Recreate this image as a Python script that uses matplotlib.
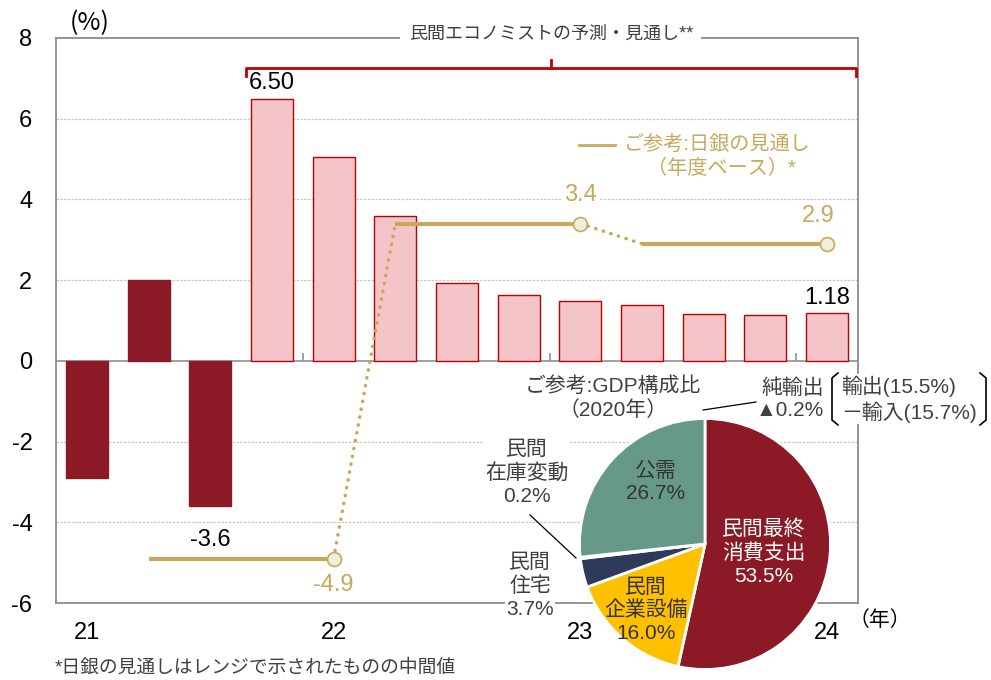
import matplotlib
matplotlib.use('Agg')
import matplotlib.pyplot as plt
from matplotlib.lines import Line2D

plt.rcParams['font.family'] = ['Liberation Sans', 'Noto Sans CJK JP']

# quarterly real GDP growth (annualised, %), first 3 actual, rest forecasts
gdp_growth = [-2.9, 2.0, -3.6, 6.50, 5.05, 3.58, 1.93, 1.64, 1.49, 1.39, 1.16, 1.14, 1.18]
n_actual = 3
year_labels = ['21', '22', '23', '24']
year_pos = [0, 4, 8, 12]
year_bounds = [3.5, 7.5, 11.5]

# BOJ outlook (fiscal year basis)
boj_start = [1, 5, 9]
boj_end = [4, 8, 12]
boj_val = [-4.9, 3.4, 2.9]

# GDP composition 2020
pie_names = ['民間最終\n消費支出', '民間\n企業設備', '民間住宅', '民間在庫変動', '公需']
pie_share = [53.5, 16.0, 3.7, 0.2, 26.7]

DARK = '#8B1A26'
PINK = '#F3C5C9'
EDGE = '#C00000'
GOLD = '#C9A85C'
GRAY_TXT = '#404040'
W, H = 991, 680
CJK = ['Noto Sans CJK JP', 'DejaVu Sans']


def px(x, y):
    return x / W, 1 - y / H


fig = plt.figure(figsize=(9.91, 6.8), dpi=100)
ax = fig.add_axes([56 / W, 1 - 603 / H, 802 / W, 565 / H])

x = list(range(len(gdp_growth)))
colors = [DARK if i < n_actual else PINK for i in x]
edges = [DARK if i < n_actual else EDGE for i in x]
ax.bar(x, gdp_growth, width=0.68, color=colors, edgecolor=edges, linewidth=1, zorder=3)

ax.set_xlim(-0.5, 12.5)
ax.set_ylim(-6, 8)
ax.set_yticks(range(-6, 9, 2))
ax.set_yticklabels([str(v) for v in range(-6, 9, 2)], fontsize=17)
ax.set_xticks(year_pos)
ax.set_xticklabels(year_labels, fontsize=17)
ax.tick_params(axis='y', length=0, pad=17)
ax.tick_params(axis='x', length=0, pad=14)
for v in [-4, -2, 2, 4, 6]:
    ax.axhline(v, color='#C8C8C8', lw=0.9, ls=(0, (2, 1)), zorder=1)
ax.axhline(0, color='#909090', lw=1.2, zorder=2)
ax.vlines(year_bounds, 0, 0.2, color='#909090', lw=1.2, zorder=2)
for s in ax.spines.values():
    s.set_color('#8C8C8C')
    s.set_linewidth(1.3)

# labels on bars
ax.text(3, gdp_growth[3] + 0.1, '6.50', ha='center', va='bottom', fontsize=17)
ax.text(12, gdp_growth[12] + 0.1, '1.18', ha='center', va='bottom', fontsize=17)
ax.text(2, -4.43, '-3.6', ha='center', va='center', fontsize=17)

# BOJ outlook line
for s, e, v in zip(boj_start, boj_end, boj_val):
    ax.plot([s, e], [v, v], color=GOLD, lw=3, solid_capstyle='butt', zorder=4)
for i in range(len(boj_val) - 1):
    ax.plot([boj_end[i], boj_start[i + 1]], [boj_val[i], boj_val[i + 1]],
            color=GOLD, lw=2.5, ls=(0, (0.1, 2.2)), dash_capstyle='round', zorder=4)
ax.plot(boj_end, boj_val, 'o', ms=10, mfc='#F0EEDC', mec=GOLD, mew=1.2, zorder=5)
ax.text(boj_end[0], boj_val[0] - 0.65, '-4.9', color=GOLD, ha='center', va='center', fontsize=17)
ax.text(boj_end[1], boj_val[1] + 0.7, '3.4', color=GOLD, ha='center', va='center', fontsize=17,
        bbox=dict(fc='white', ec='none', pad=2), zorder=3)
ax.text(boj_end[2] - 0.15, boj_val[2] + 0.7, '2.9', color=GOLD, ha='center', va='center', fontsize=17)

# legend for BOJ line
ax.add_line(Line2D([7.97, 8.56], [5.35, 5.35], color=GOLD, lw=2))
ax.text(8.7, 5.35, 'ご参考:日銀の見通し', color=GOLD, ha='left', va='center', fontsize=14.5)
ax.text(10.28, 4.78, '（年度ベース）*', color=GOLD, ha='center', va='center', fontsize=14.5)

# bracket for economists' forecasts
bx0, bx1, bxm, by = 2.58, 12.46, 7.52, 7.25
ax.plot([bx0, bx0, bx1, bx1], [7.05, by, by, 7.05], color=EDGE, lw=2, clip_on=False, zorder=6)
ax.plot([bxm, bxm], [by, 7.45], color=EDGE, lw=2, clip_on=False, zorder=6)
ax.text(bxm, 8.1, '民間エコノミストの予測・見通し**', ha='center', va='center', fontsize=13,
        color=GRAY_TXT, bbox=dict(fc='white', ec='none', pad=6), clip_on=False, zorder=7)

fig.text(*px(90, 23), '(%)', ha='center', va='center', fontsize=18, family=CJK)
fig.text(*px(880, 620), '（年）', ha='center', va='center', fontsize=15, family=CJK)
fig.text(*px(55, 668), '*日銀の見通しはレンジで示されたものの中間値', ha='left', va='center',
         fontsize=13.5, color=GRAY_TXT)

# pie inset
pax = fig.add_axes([577 / W, 1 - 672 / H, 256 / W, 256 / H])
pie_colors = [DARK, '#FFC000', '#2E3A5A', '#D0D0D0', '#66998A']
pax.pie(pie_share, colors=pie_colors, startangle=90, counterclock=False,
        wedgeprops=dict(edgecolor='white', linewidth=2))
pax.set_xlim(-1.02, 1.02)
pax.set_ylim(-1.02, 1.02)
pax.set_aspect('equal')
pax.axis('off')
pax.text(0.47, -0.07, pie_names[0] + '\n%.1f%%' % pie_share[0], color='white', ha='center',
         va='center', fontsize=15, linespacing=1.25)
pax.text(-0.47, -0.53, pie_names[1] + '\n%.1f%%' % pie_share[1], color='#333333', ha='center',
         va='center', fontsize=15, linespacing=1.25)
pax.text(-0.39, 0.49, pie_names[4] + '\n%.1f%%' % pie_share[4], color='#333333', ha='center',
         va='center', fontsize=15, linespacing=1.25)

box = dict(fc='white', ec='none', pad=1)
fig.text(*px(527, 473), '民間\n在庫変動\n%.1f%%' % pie_share[3], ha='center', va='center',
         fontsize=15, color=GRAY_TXT, linespacing=1.25, bbox=box)
fig.text(*px(530, 586), '民間\n住宅\n%.1f%%' % pie_share[2], ha='center', va='center',
         fontsize=15, color=GRAY_TXT, linespacing=1.25, bbox=box)
fig.add_artist(Line2D(*zip(px(530, 515), px(576, 558)), color='black', lw=0.9))

fig.text(*px(613, 398), 'ご参考:GDP構成比\n（2020年）', ha='center', va='center',
         fontsize=15, color=GRAY_TXT, linespacing=1.25)
fig.text(*px(824, 399), '純輸出\n▲0.2%', ha='right', va='center',
         fontsize=15, color=GRAY_TXT, linespacing=1.25)
fig.add_artist(Line2D(*zip(px(703, 410), px(756, 402)), color='black', lw=0.9))
fig.text(*px(841, 399), '輸出(15.5%)\n－輸入(15.7%)', ha='left', va='center',
         fontsize=15, color=GRAY_TXT, linespacing=1.25, bbox=box)
fig.add_artist(Line2D(*zip(px(838, 373), px(832, 378), px(832, 420), px(838, 425)),
                      color='black', lw=1.2))
fig.add_artist(Line2D(*zip(px(980, 373), px(986, 378), px(986, 420), px(980, 425)),
                      color='black', lw=1.2))

fig.savefig('out.png', dpi=100)
